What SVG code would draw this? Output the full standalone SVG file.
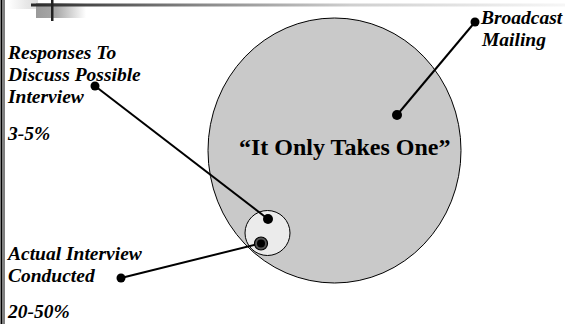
<svg xmlns="http://www.w3.org/2000/svg" width="565" height="324" viewBox="0 0 565 324">
<defs>
<linearGradient id="bar" x1="31" y1="0" x2="565" y2="0" gradientUnits="userSpaceOnUse">
<stop offset="0" stop-color="#2a2a2a"/>
<stop offset="0.32" stop-color="#888"/>
<stop offset="0.6" stop-color="#cfcfcf"/>
<stop offset="1" stop-color="#f6f6f6"/>
</linearGradient>
<linearGradient id="blk" x1="0" y1="0" x2="1" y2="0">
<stop offset="0" stop-color="#9a9a9a"/>
<stop offset="0.4" stop-color="#a8a8a8"/>
<stop offset="1" stop-color="#fff"/>
</linearGradient>
<linearGradient id="blk2" x1="0" y1="0" x2="1" y2="0">
<stop offset="0" stop-color="#fff"/>
<stop offset="0.6" stop-color="#e8e8e8"/>
<stop offset="1" stop-color="#ddd"/>
</linearGradient>
</defs>
<style>
.lbl{font-family:"Liberation Serif","Times New Roman",serif;font-weight:bold;font-style:italic;font-size:19.5px;fill:#000}
.big{font-family:"Liberation Serif","Times New Roman",serif;font-weight:bold;font-size:24px;fill:#000}
.conn{stroke:#000;stroke-width:2;fill:none}
.dot{fill:#000}
</style>
<g id="decoration">
<rect x="8" y="0" width="30" height="9" fill="url(#blk2)"/>
<rect x="36" y="3" width="50" height="15" fill="url(#blk)"/>
<rect x="31" y="3.5" width="534" height="3" fill="url(#bar)"/>
<rect x="51" y="0" width="2.5" height="21" fill="#222"/>
<rect x="0.5" y="0" width="2" height="324" fill="#000"/>
<rect x="3.5" y="0" width="1" height="324" fill="#000"/>
</g>
<g id="broadcast">
<ellipse cx="334.5" cy="150.5" rx="126.5" ry="132.5" fill="#c9c9c9" stroke="#000" stroke-width="1"/>
<text class="big" x="239" y="155">“It Only Takes One”</text>
</g>
<g id="responses">
<circle cx="267.5" cy="233" r="22.5" fill="#ebebeb" stroke="#000" stroke-width="1"/>
</g>
<g id="connectors">
<line class="conn" x1="95" y1="86" x2="268" y2="219"/>
<line class="conn" x1="121" y1="278" x2="258" y2="244"/>
<line class="conn" x1="475" y1="22" x2="397" y2="115"/>
<circle class="dot" cx="95" cy="86" r="4.5"/>
<circle class="dot" cx="268" cy="219" r="5"/>
<circle class="dot" cx="121" cy="278" r="4.5"/>
<circle class="dot" cx="475" cy="22" r="4.5"/>
<circle class="dot" cx="397" cy="115" r="5"/>
<circle cx="261" cy="243.5" r="6.5" fill="#555" stroke="#000" stroke-width="1.2"/>
<circle class="dot" cx="261" cy="243.5" r="4"/>
</g>
<g id="labels">
<text class="lbl" x="8" y="59">Responses To</text>
<text class="lbl" x="8" y="81">Discuss Possible</text>
<text class="lbl" x="8" y="103">Interview</text>
<text class="lbl" x="8" y="140">3-5%</text>
<text class="lbl" x="481" y="24">Broadcast</text>
<text class="lbl" x="482" y="46">Mailing</text>
<text class="lbl" x="8" y="260">Actual Interview</text>
<text class="lbl" x="8" y="282">Conducted</text>
<text class="lbl" x="8" y="318">20-50%</text>
</g>
</svg>
